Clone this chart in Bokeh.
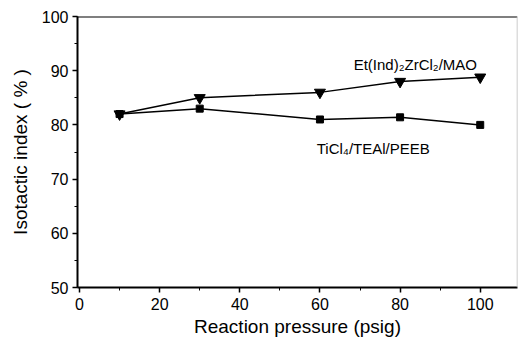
from bokeh.plotting import figure
from bokeh.models import Label, Range1d, FixedTicker, Span
from bokeh.embed import file_html
from bokeh.resources import INLINE

pressure = [10, 30, 60, 80, 100]
zr_mao = [82, 85, 86, 88, 88.8]
ti_peeb = [82, 83, 81, 81.4, 80]
x_ticks = [0, 20, 40, 60, 80, 100]
y_ticks = [50, 60, 70, 80, 90, 100]

FONT = "Liberation Sans"
X_MAX = 109.3

p = figure(width=518, height=339, output_backend="svg", toolbar_location=None,
           x_range=Range1d(-0.5, X_MAX), y_range=Range1d(50, 100))
p.min_border_left = 77
p.min_border_right = 1
p.min_border_top = 16
p.min_border_bottom = 52
p.outline_line_color = None
p.grid.visible = False
p.background_fill_color = "white"
p.border_fill_color = "white"

p.xaxis.ticker = FixedTicker(ticks=x_ticks, minor_ticks=list(range(0, 110, 10)))
p.yaxis.ticker = FixedTicker(ticks=y_ticks, minor_ticks=list(range(50, 101, 5)))
for ax in (p.xaxis, p.yaxis):
    ax.axis_line_width = 2
    ax.axis_line_color = "black"
    ax.major_tick_out = 5
    ax.major_tick_in = 0
    ax.minor_tick_out = 3
    ax.minor_tick_in = 0
    ax.major_tick_line_width = 1.5
    ax.major_label_text_font = FONT
    ax.major_label_text_font_size = "16px"
    ax.major_label_text_color = "black"
    ax.axis_label_text_font = FONT
    ax.axis_label_text_font_size = "19px"
    ax.axis_label_text_font_style = "normal"
    ax.axis_label_text_color = "black"
p.xaxis.axis_label = "Reaction pressure (psig)"
p.yaxis.axis_label = "Isotactic index ( % )"
p.xaxis.major_label_standoff = 5
p.xaxis.axis_label_standoff = 3
p.yaxis.major_label_standoff = 4
p.yaxis.axis_label_standoff = 8

# frame borders: top black, right faint gray
p.add_layout(Span(location=100, dimension="width", line_color="black", line_width=2))
p.add_layout(Span(location=X_MAX, dimension="height", line_color="#bbbbbb", line_width=1.5))

p.line(pressure, zr_mao, line_color="black", line_width=1.5)
p.scatter(pressure, zr_mao, marker="inverted_triangle", size=11,
          fill_color="black", line_color="black")
p.line(pressure, ti_peeb, line_color="black", line_width=1.5)
p.scatter(pressure, ti_peeb, marker="square", size=7,
          fill_color="black", line_color="black")

p.add_layout(Label(x=83.8, y=91.1, text="Et(Ind)\u2082ZrCl\u2082/MAO",
                   text_font=FONT, text_font_size="15px", text_align="center",
                   text_baseline="middle", text_color="black"))
p.add_layout(Label(x=73.3, y=75.6, text="TiCl\u2084/TEAl/PEEB",
                   text_font=FONT, text_font_size="15px", text_align="center",
                   text_baseline="middle", text_color="black"))

open("out.html", "w").write(file_html(p, INLINE))
